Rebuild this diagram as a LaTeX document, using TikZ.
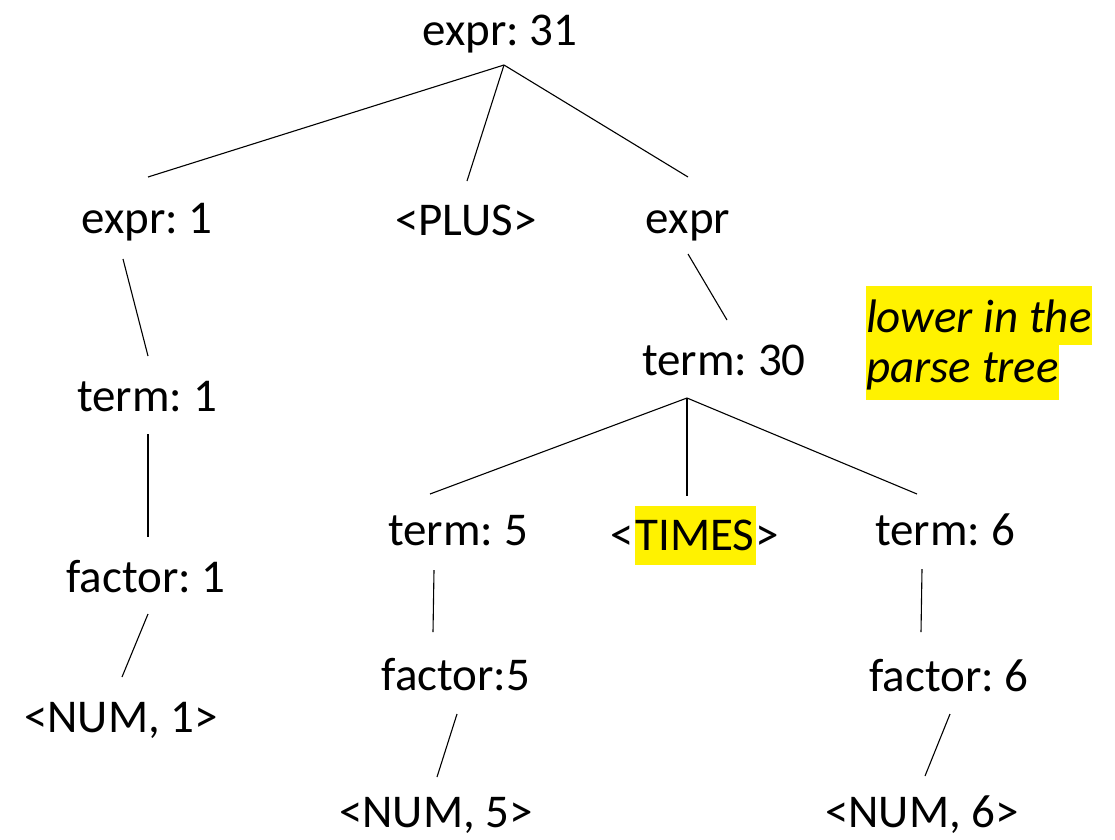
\documentclass[tikz,border=0pt]{standalone}
\usepackage{fontspec}
\setmainfont{Carlito}
\frenchspacing
\begin{document}
\begin{tikzpicture}[x=1pt, y=-1pt,
  lbl/.style={font=\fontsize{47}{56}\selectfont, inner sep=0pt, anchor=base},
  hilite/.style={fill=yellow},
  branch/.style={draw=black, line width=1.1pt}]
\useasboundingbox (0,0) rectangle (1115,839);

% tree labels (placed at their baselines)
\node[lbl] (root) at (500,45)  {expr: 31};
\node[lbl] (e1)   at (147,233) {expr: 1};
\node[lbl] (plus) at (466,235) {<PLUS>};
\node[lbl] (e2)   at (688,233) {expr};
\node[lbl] (t1)   at (147,411) {term: 1};
\node[lbl] (t30)  at (724,375) {term: 30};
\node[lbl] (f1)   at (146,592) {factor: 1};
\node[lbl] (t5)   at (458,545) {term: 5};
\node[lbl, hilite, text height=44pt, text depth=15pt, inner xsep=1pt] (times) at (695,550) {TIMES};
\node[lbl, anchor=base east] (times-l) at (times.base west) {<};
\node[lbl, anchor=base west] (times-r) at (times.base east) {>};
\node[lbl] (t6)   at (945,545) {term: 6};
\node[lbl] (n1)   at (121,732) {<NUM, 1>};
\node[lbl] (f5)   at (456,690) {factor:5};
\node[lbl] (f6)   at (949,691) {factor: 6};
\node[lbl] (n5)   at (436,827) {<NUM, 5>};
\node[lbl] (n6)   at (922,827) {<NUM, 6>};

% side note
\node[lbl, hilite, anchor=base west, text height=46pt, text depth=13pt, font=\fontsize{47}{56}\selectfont\itshape]
  (note1) at (866,332) {lower in the};
\node[lbl, hilite, anchor=base west, text height=37pt, text depth=18pt, font=\fontsize{47}{56}\selectfont\itshape]
  (note2) at (866,382) {parse tree};

% branch end points
\coordinate (root-j) at (504,65);
\coordinate (e1-t)   at (148,177);
\coordinate (plus-t) at (467,181);
\coordinate (e2-t)   at (688,177);
\coordinate (e1-b)   at (123,259);
\coordinate (t1-t)   at (148,356);
\coordinate (t1-b)   at (148,434);
\coordinate (f1-t)   at (148,537);
\coordinate (f1-b)   at (148,614);
\coordinate (n1-t)   at (122,677);
\coordinate (e2-b)   at (688,254);
\coordinate (t30-t)  at (727,320);
\coordinate (t30-j)  at (687,398);
\coordinate (t5-t)   at (430,494);
\coordinate (times-t) at (687,496);
\coordinate (t6-t)   at (917,494);
\coordinate (t5-b)   at (434,570);
\coordinate (f5-t)   at (433,632);
\coordinate (f5-b)   at (457,714);
\coordinate (n5-t)   at (437,777);
\coordinate (t6-b)   at (922,569);
\coordinate (f6-t)   at (921,632);
\coordinate (f6-b)   at (950,714);
\coordinate (n6-t)   at (925,776);

% branches
\draw[branch] (root-j) -- (e1-t);
\draw[branch] (root-j) -- (plus-t);
\draw[branch] (root-j) -- (e2-t);
\draw[branch] (e1-b) -- (t1-t);
\draw[branch] (t1-b) -- (f1-t);
\draw[branch] (f1-b) -- (n1-t);
\draw[branch] (e2-b) -- (t30-t);
\draw[branch] (t30-j) -- (t5-t);
\draw[branch] (t30-j) -- (times-t);
\draw[branch] (t30-j) -- (t6-t);
\draw[branch] (t5-b) -- (f5-t);
\draw[branch] (f5-b) -- (n5-t);
\draw[branch] (t6-b) -- (f6-t);
\draw[branch] (f6-b) -- (n6-t);
\end{tikzpicture}
\end{document}
